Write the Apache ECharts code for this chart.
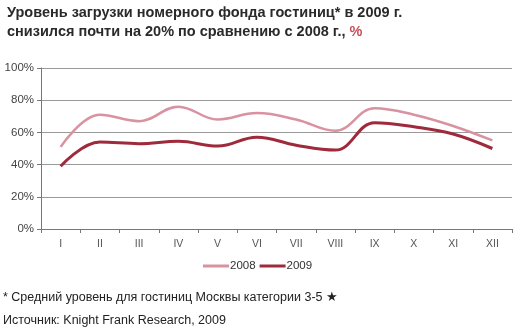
<!DOCTYPE html>
<html><head><meta charset="utf-8">
<script src="https://cdn.jsdelivr.net/npm/echarts@6/dist/echarts.min.js"></script>
<style>html,body{margin:0;padding:0;background:#fff}#c{width:516px;height:329px}</style>
</head><body><div id="c"></div>
<script>
var categories = ['I','II','III','IV','V','VI','VII','VIII','IX','X','XI','XII'];
var series2008 = [51, 71, 67, 76, 68, 72, 68, 61, 75, 71, 64, 55];
var series2009 = [39, 54, 53, 54.5, 51.5, 57, 52, 49, 66, 63.5, 59, 50];
var yTicks = [0, 20, 40, 60, 80, 100];

var chart = echarts.init(document.getElementById('c'));
chart.setOption({
  animation: false,
  title: {
    left: 2, top: 0, padding: [3, 5, 5, 5],
    text: 'Уровень загрузки номерного фонда гостиниц* в 2009 г.\nснизился почти на 20% по сравнению с 2008 г., {p|%}',
    textStyle: {
      fontFamily: 'Liberation Sans, Arial', fontSize: 14.5, fontWeight: 'bold', color: '#2a2a2a', lineHeight: 19,
      rich: { p: { color: '#c8505a', fontSize: 14.5, fontWeight: 'bold', fontFamily: 'Liberation Sans, Arial' } }
    }
  },
  grid: { left: 41, right: 4, top: 68, bottom: 100 },
  legend: {
    top: 255, left: 198,
    itemWidth: 26, itemHeight: 3, itemGap: 4,
    icon: 'rect',
    textStyle: { fontFamily: 'Liberation Sans, Arial', fontSize: 11.5, color: '#333', padding: [0,0,0,-4] },
    data: ['2008', '2009']
  },
  xAxis: {
    type: 'category', data: categories, boundaryGap: true,
    axisLine: { lineStyle: { color: '#777', width: 1 } },
    axisTick: { show: true, length: 4, lineStyle: { color: '#777' } },
    axisLabel: { margin: 10, color: '#555', fontSize: 10.5, fontFamily: 'Liberation Sans, Arial' }
  },
  yAxis: {
    type: 'value', min: 0, max: 100, interval: 20,
    axisLine: { show: true, lineStyle: { color: '#777' } },
    axisTick: { show: true, length: 4, inside: false, lineStyle: { color: '#777' } },
    axisLabel: {
      margin: 7, color: '#444', fontSize: 11.5, fontFamily: 'Liberation Sans, Arial',
      formatter: function (v) { return yTicks.indexOf(v) >= 0 ? v + '%' : ''; }
    },
    splitLine: { lineStyle: { color: '#999', width: 1 } }
  },
  series: [
    { name: '2008', type: 'line', data: series2008, smooth: 0.4, symbol: 'none',
      lineStyle: { color: '#d9929f', width: 2.5 }, itemStyle: { color: '#d9929f' } },
    { name: '2009', type: 'line', data: series2009, smooth: 0.4, symbol: 'none',
      lineStyle: { color: '#9e2a3c', width: 3 }, itemStyle: { color: '#9e2a3c' } }
  ],
  graphic: [
    { type: 'text', left: 3, top: 291,
      style: { text: '* Средний уровень для гостиниц Москвы категории 3-5 ★', fill: '#222', fontSize: 12.5, fontFamily: 'Liberation Sans, Arial' } },
    { type: 'text', left: 3, top: 314,
      style: { text: 'Источник: Knight Frank Research, 2009', fill: '#222', fontSize: 12.5, fontFamily: 'Liberation Sans, Arial' } }
  ]
});
</script></body></html>
